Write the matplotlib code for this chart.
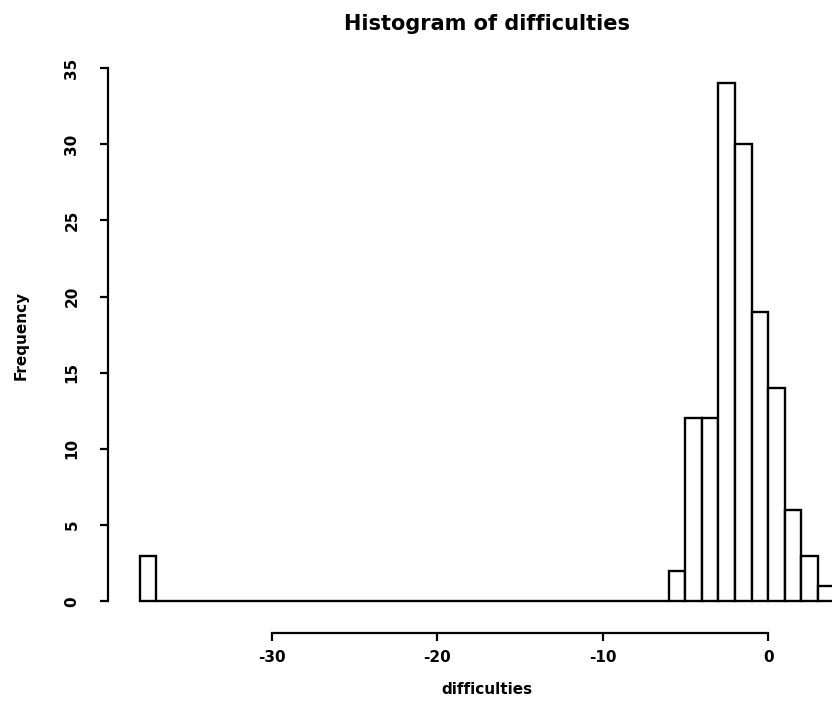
import numpy as np
import matplotlib
matplotlib.use("Agg")
from matplotlib import pyplot as plt

# histogram bins (left edges, width 1) and counts
bin_left = np.arange(-38, 4)
counts = [3] + [0] * 31 + [2, 12, 12, 34, 30, 19, 14, 6, 3, 1]
x_ticks = [-30, -20, -10, 0]
y_ticks = [0, 5, 10, 15, 20, 25, 30, 35]

plt.rcParams['font.family'] = ['DejaVu Sans']
plt.rcParams['font.weight'] = 'bold'
plt.rcParams['axes.unicode_minus'] = False

fig = plt.figure(figsize=(8.32, 7.11), dpi=100)
# plot region runs past the right edge of the figure, like the R device
ax = fig.add_axes([112 / 832, 1 - 622 / 711, 750 / 832, 559.5 / 711])

ax.bar(bin_left, counts, width=1, align='edge', color='white',
       edgecolor='black', linewidth=1.7)

ax.set_xlim(-39.68, 5.68)
ax.set_ylim(-1.36, 35.36)

for s in ['top', 'right']:
    ax.spines[s].set_visible(False)
ax.spines['left'].set_position(('outward', 3))
ax.spines['left'].set_bounds(0, 35)
ax.spines['bottom'].set_position(('outward', 8))
ax.spines['bottom'].set_bounds(-30, 0)
for s in ['left', 'bottom']:
    ax.spines[s].set_linewidth(1.6)

ax.set_xticks(x_ticks)
ax.set_yticks(y_ticks)
ax.tick_params(axis='both', direction='out', length=5.5, width=1.6,
               labelsize=11)
ax.tick_params(axis='x', pad=7)
ax.tick_params(axis='y', pad=15)
for lab in ax.get_yticklabels():
    lab.set_rotation(90)
    lab.set_va('center')
for lab in ax.get_xticklabels() + ax.get_yticklabels():
    lab.set_fontweight('bold')

fig.text(487 / 832, 1 - 24 / 711, 'Histogram of difficulties', ha='center',
         va='center', fontsize=15, fontweight='bold')
fig.text(487 / 832, 1 - 690 / 711, 'difficulties', ha='center', va='center',
         fontsize=11, fontweight='bold')
fig.text(21 / 832, 1 - 335 / 711, 'Frequency', ha='center', va='center',
         rotation=90, fontsize=11, fontweight='bold')

fig.savefig('out.png', dpi=100)
